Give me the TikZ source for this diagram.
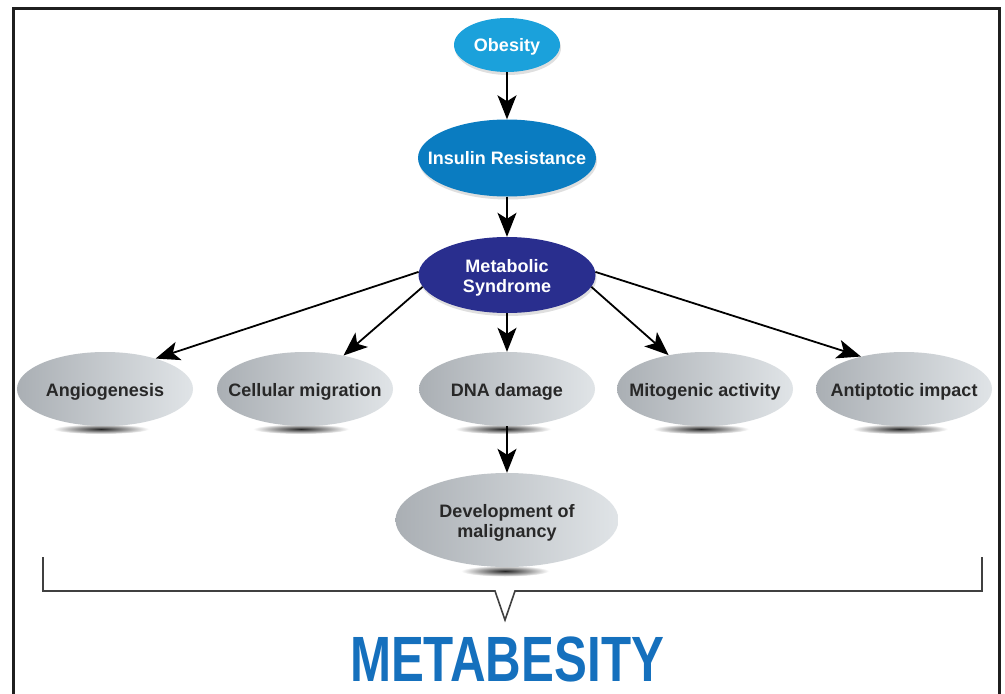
\documentclass[tikz,border=0pt]{standalone}
\usepackage{fontspec}
\usepackage{graphicx}
\setmainfont{Liberation Sans}
\usetikzlibrary{arrows.meta,shadows,shapes.geometric}
\definecolor{obblue}{RGB}{27,161,219}
\definecolor{irblue}{RGB}{10,124,193}
\definecolor{msblue}{RGB}{41,46,142}
\definecolor{titleblue}{RGB}{21,112,189}
\definecolor{gleft}{RGB}{170,175,180}
\definecolor{gmid}{RGB}{164,169,174}
\definecolor{gright}{RGB}{224,228,231}
\definecolor{txtgray}{RGB}{40,40,40}
\newcommand{\mkl}[1]{\makebox[0pt]{\raisebox{-3bp}[\height][\depth]{\begin{tabular}{@{}c@{}}#1\end{tabular}}}}
\begin{document}
\begin{tikzpicture}[x=1bp,y=-1bp,
  lbl/.style={font=\bfseries\fontsize{18bp}{20bp}\selectfont, align=center},
  blueell/.style={ellipse, lbl, text=white, inner sep=0pt,
    drop shadow={shadow xshift=1bp,shadow yshift=-3bp,opacity=0.25}},
  grayell/.style={ellipse, lbl, text=txtgray, inner sep=0pt,
    minimum width=176bp, minimum height=74bp,
    left color=gleft, middle color=gmid, right color=gright},
  arr/.style={line width=1.8bp, draw=black, -{Stealth[length=24bp,width=19bp,inset=6bp]}},
  shadowell/.style={inner color=black!85, outer color=white},
]
\useasboundingbox (0,0) rectangle (1005,694);
\fill[white] (0,0) rectangle (1005,694);

% frame
\draw[line width=3bp, draw=black!88] (13,700) -- (13,8.5) -- (999,8.5) -- (999,700);

% shadows under grey ellipses
\foreach \cx in {105,305,507,705,904}{
  \shade[shadowell] (\cx-4,429) ellipse [x radius=48bp, y radius=5bp];
}
\shade[shadowell] (505,571) ellipse [x radius=44bp, y radius=5.5bp];

% blue nodes
\node[blueell, fill=obblue, minimum width=106bp, minimum height=54bp] (ob) at (507,45) {\mkl{Obesity}};
\node[blueell, fill=irblue, minimum width=178bp, minimum height=77bp] (ir) at (507,158) {\mkl{Insulin Resistance}};
\node[blueell, fill=msblue, minimum width=177bp, minimum height=76bp] (ms) at (507,275) {\mkl{Metabolic\\Syndrome}};

% grey nodes
\node[grayell] (ang) at (105,389) {\mkl{Angiogenesis}};
\node[grayell] (cell) at (305,389) {\mkl{Cellular migration}};
\node[grayell] (dna) at (507,389) {\mkl{DNA damage}};
\node[grayell] (mito) at (705,389) {\mkl{Mitogenic activity}};
\node[grayell] (anti) at (904,389) {\mkl{Antiptotic impact}};
\node[grayell, minimum width=223bp, minimum height=94bp] (dev) at (507,520) {\mkl{Development of\\malignancy}};

% arrows
\draw[arr] (ob) -- (ir);
\draw[arr] (ir) -- (ms);
\draw[arr] (ms.178) -- (ang.31);
\draw[arr] (ms.188) -- (cell.41);
\draw[arr] (ms) -- (dna);
\draw[arr] (ms.352) -- (mito.137);
\draw[arr] (ms.2) -- (anti.143);
\draw[arr] (dna) -- (dev);

% bracket
\draw[line width=1.6bp, draw=black!75, line join=miter]
  (43,557) -- (43,591) -- (495,591) -- (505,620) -- (515,591) -- (982,591) -- (982,557);

% title
\node[font=\bfseries\fontsize{64bp}{64bp}\selectfont, text=titleblue, inner sep=0pt] (title) at (507,659) {\scalebox{0.77}[1]{METABESITY}};
\end{tikzpicture}
\end{document}
